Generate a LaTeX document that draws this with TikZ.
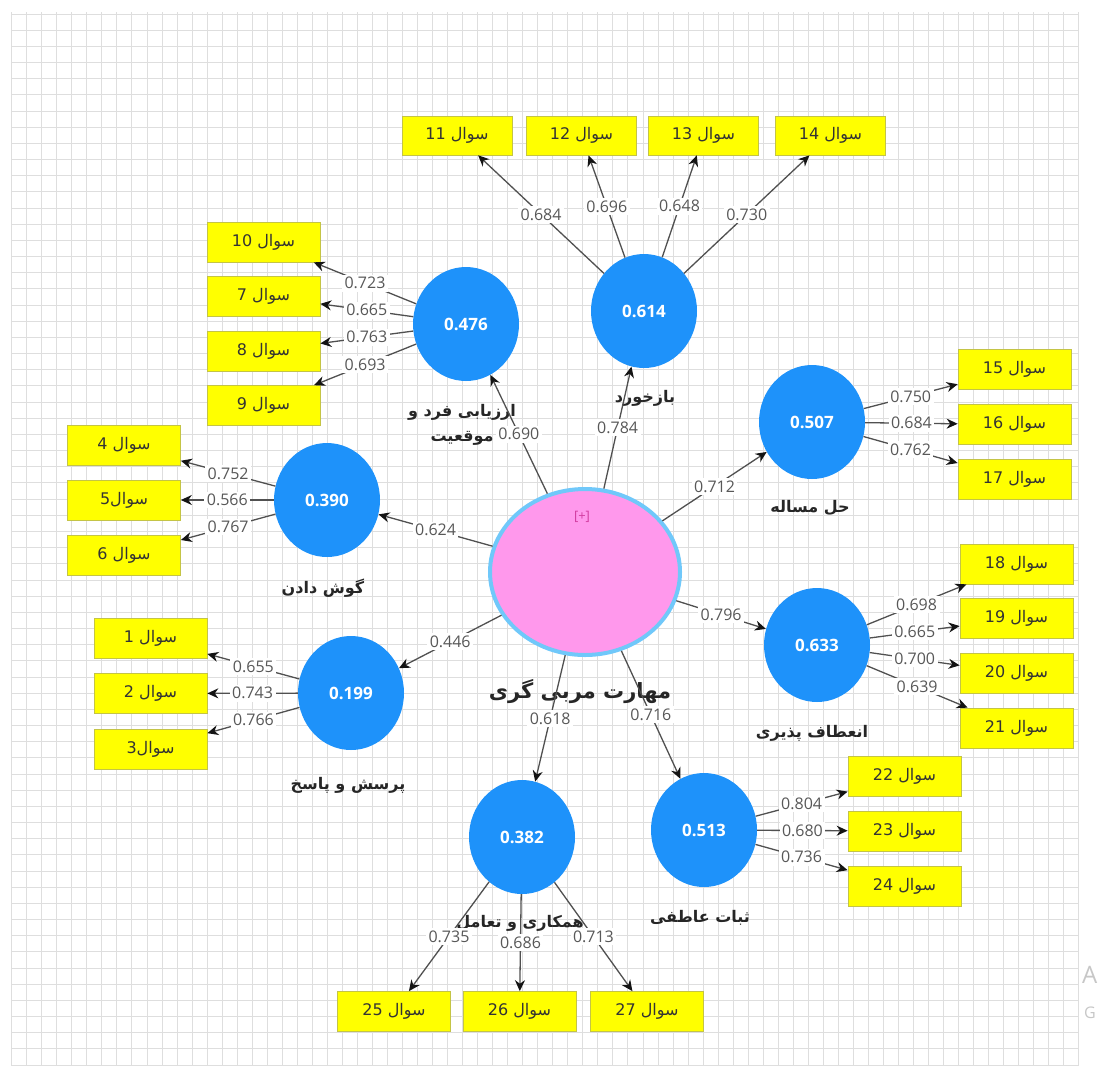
\documentclass[tikz,border=0pt]{standalone}
\usepackage{fontspec}
\setmainfont{Open Sans}
\newfontfamily\numfont{Open Sans}
\newfontfamily\arabicfont[Script=Arabic]{DejaVu Sans}
\TeXXeTstate=1
\usetikzlibrary{shapes.geometric,arrows.meta}
\definecolor{lvblue}{RGB}{30,146,250}
\definecolor{pinkfill}{RGB}{255,152,236}
\definecolor{pinkedge}{RGB}{112,200,250}
\definecolor{indfill}{RGB}{255,255,0}
\definecolor{indedge}{RGB}{196,196,70}
\definecolor{lbltext}{RGB}{88,88,88}
\definecolor{linec}{RGB}{80,80,80}
\definecolor{headc}{RGB}{20,20,20}
\definecolor{gridc}{RGB}{222,222,222}
\definecolor{plusc}{RGB}{210,60,160}
\begin{document}
\begin{tikzpicture}[x=1pt,y=-1pt,
  lv/.style={ellipse, fill=lvblue, minimum width=106pt, minimum height=114pt, inner sep=0pt,
    text=white, font=\numfont\bfseries\fontsize{17}{20}\selectfont},
  ind/.style={rectangle, fill=indfill, draw=indedge, line width=0.7pt, minimum width=113pt,
    minimum height=40pt, inner sep=0pt, text=black!80, font=\arabicfont\fontsize{16}{19}\selectfont},
  indtop/.style={ind, minimum width=110pt, minimum height=39pt},
  lbl/.style={fill=white, inner sep=2.5pt, text=lbltext, font=\numfont\fontsize{16}{19}\selectfont},
  arr/.style={draw=linec, line width=1.3pt, -{Stealth[length=11pt,width=10pt,color=headc]}},
  lvname/.style={text=black!85, font=\arabicfont\bfseries\fontsize{16}{25}\selectfont, align=center},
  gridline/.style={draw=gridc, line width=0.9pt}
]
\useasboundingbox (0,0) rectangle (1100,1066);
\fill[white] (0,0) rectangle (1100,1066);
% grid
\foreach \i in {0,...,71} \draw[gridline] ({11.7+\i*15.03},12) -- ({11.7+\i*15.03},1066);
\foreach \j in {0,...,65} \draw[gridline] (11.7,{14+\j*16.17}) -- (1079,{14+\j*16.17});
% watermark remnants
\node[anchor=west, inner sep=0pt, text=black!22, font=\numfont\fontsize{24}{26}\selectfont] (wmA) at (1082,975) {A};
\node[anchor=west, inner sep=0pt, text=black!22, font=\numfont\fontsize{16}{18}\selectfont] (wmG) at (1084,1013) {G};

% central construct
\node[ellipse, fill=pinkfill, draw=pinkedge, line width=4pt, minimum width=190pt, minimum height=166pt, inner sep=0pt] (C) at (585,572) {};
\node[text=plusc, font=\numfont\fontsize{13}{15}\selectfont] (plus) at (582,517) {[+]};

% latent variables
\node[lv] (L476) at (466,324) {0.476};
\node[lv] (L614) at (644,311) {0.614};
\node[lv] (L507) at (812,422) {0.507};
\node[lv] (L633) at (817,645) {0.633};
\node[lv] (L390) at (327,500) {0.390};
\node[lv] (L199) at (351,693) {0.199};
\node[lv] (L382) at (522,837) {0.382};
\node[lv] (L513) at (704,830) {0.513};

% indicators
\node[indtop] (q11) at (457,135.5) {\beginR سوال 11\endR};
\node[indtop] (q12) at (581.5,135.5) {\beginR سوال 12\endR};
\node[indtop] (q13) at (703.5,135.5) {\beginR سوال 13\endR};
\node[indtop] (q14) at (830.5,135.5) {\beginR سوال 14\endR};

\node[ind] (q10) at (263.5,242) {\beginR سوال 10\endR};
\node[ind] (q7) at (263.5,296) {\beginR سوال 7\endR};
\node[ind] (q8) at (263.5,351) {\beginR سوال 8\endR};
\node[ind] (q9) at (263.5,405.5) {\beginR سوال 9\endR};

\node[ind] (q4) at (124,445.5) {\beginR سوال 4\endR};
\node[ind] (q5) at (124,500) {\beginR سوال5\endR};
\node[ind] (q6) at (124,555.5) {\beginR سوال 6\endR};

\node[ind] (q1) at (150.5,638.5) {\beginR سوال 1\endR};
\node[ind] (q2) at (150.5,693.5) {\beginR سوال 2\endR};
\node[ind] (q3) at (150.5,749) {\beginR سوال3\endR};

\node[ind] (q15) at (1014.5,369.5) {\beginR سوال 15\endR};
\node[ind] (q16) at (1014.5,424.5) {\beginR سوال 16\endR};
\node[ind] (q17) at (1014.5,479) {\beginR سوال 17\endR};

\node[ind] (q18) at (1016.5,564) {\beginR سوال 18\endR};
\node[ind] (q19) at (1016.5,618.5) {\beginR سوال 19\endR};
\node[ind] (q20) at (1016.5,673.5) {\beginR سوال 20\endR};
\node[ind] (q21) at (1016.5,728) {\beginR سوال 21\endR};

\node[ind] (q22) at (904.5,776.5) {\beginR سوال 22\endR};
\node[ind] (q23) at (904.5,831) {\beginR سوال 23\endR};
\node[ind] (q24) at (904.5,886) {\beginR سوال 24\endR};

\node[ind] (q25) at (394,1011.5) {\beginR سوال 25\endR};
\node[ind] (q26) at (519.5,1011.5) {\beginR سوال 26\endR};
\node[ind] (q27) at (647,1011.5) {\beginR سوال 27\endR};

% construct names
\node[lvname] (n476) at (462,425) {\beginR ارزیابی فرد و\endR\\\beginR موقعیت\endR};
\node[lvname] (n614) at (645,398) {\beginR بازخورد\endR};
\node[lvname] (n507) at (810,508) {\beginR حل مساله\endR};
\node[lvname] (n633) at (812,733) {\beginR انعطاف پذیری\endR};
\node[lvname] (n390) at (323,588) {\beginR گوش دادن\endR};
\node[lvname] (n199) at (348,785) {\beginR پرسش و پاسخ\endR};
\node[lvname] (n382) at (520,923) {\beginR همکاری و تعامل\endR};
\node[lvname] (n513) at (700,918) {\beginR ثبات عاطفی\endR};
\node[text=black!85, font=\arabicfont\bfseries\fontsize{21}{26}\selectfont] (nC) at (580,692) {\beginR مهارت مربی گری\endR};

% structural paths
\draw[arr] (C) -- node[lbl]{0.690} (L476);
\draw[arr] (C) -- node[lbl]{0.784} (L614);
\draw[arr] (C) -- node[lbl]{0.712} (L507);
\draw[arr] (C) -- node[lbl]{0.796} (L633);
\draw[arr] (C) -- node[lbl]{0.624} (L390);
\draw[arr] (C) -- node[lbl]{0.446} (L199);
\draw[arr] (C) -- node[lbl]{0.618} (L382);
\draw[arr] (C) -- node[lbl]{0.716} (L513);

% loadings
\draw[arr] (L614) -- node[lbl]{0.684} (q11);
\draw[arr] (L614) -- node[lbl]{0.696} (q12);
\draw[arr] (L614) -- node[lbl]{0.648} (q13);
\draw[arr] (L614) -- node[lbl]{0.730} (q14);

\draw[arr] (L476) -- node[lbl]{0.723} (q10);
\draw[arr] (L476) -- node[lbl]{0.665} (q7);
\draw[arr] (L476) -- node[lbl]{0.763} (q8);
\draw[arr] (L476) -- node[lbl]{0.693} (q9);

\draw[arr] (L390) -- node[lbl]{0.752} (q4);
\draw[arr] (L390) -- node[lbl]{0.566} (q5);
\draw[arr] (L390) -- node[lbl]{0.767} (q6);

\draw[arr] (L199) -- node[lbl]{0.655} (q1);
\draw[arr] (L199) -- node[lbl]{0.743} (q2);
\draw[arr] (L199) -- node[lbl]{0.766} (q3);

\draw[arr] (L507) -- node[lbl]{0.750} (q15);
\draw[arr] (L507) -- node[lbl]{0.684} (q16);
\draw[arr] (L507) -- node[lbl]{0.762} (q17);

\draw[arr] (L633) -- node[lbl]{0.698} (q18);
\draw[arr] (L633) -- node[lbl]{0.665} (q19);
\draw[arr] (L633) -- node[lbl]{0.700} (q20);
\draw[arr] (L633) -- node[lbl]{0.639} (q21);

\draw[arr] (L513) -- node[lbl]{0.804} (q22);
\draw[arr] (L513) -- node[lbl]{0.680} (q23);
\draw[arr] (L513) -- node[lbl]{0.736} (q24);

\draw[arr] (L382) -- node[lbl]{0.735} (q25);
\draw[arr] (L382) -- node[lbl]{0.686} (q26);
\draw[arr] (L382) -- node[lbl]{0.713} (q27);
\end{tikzpicture}
\end{document}
